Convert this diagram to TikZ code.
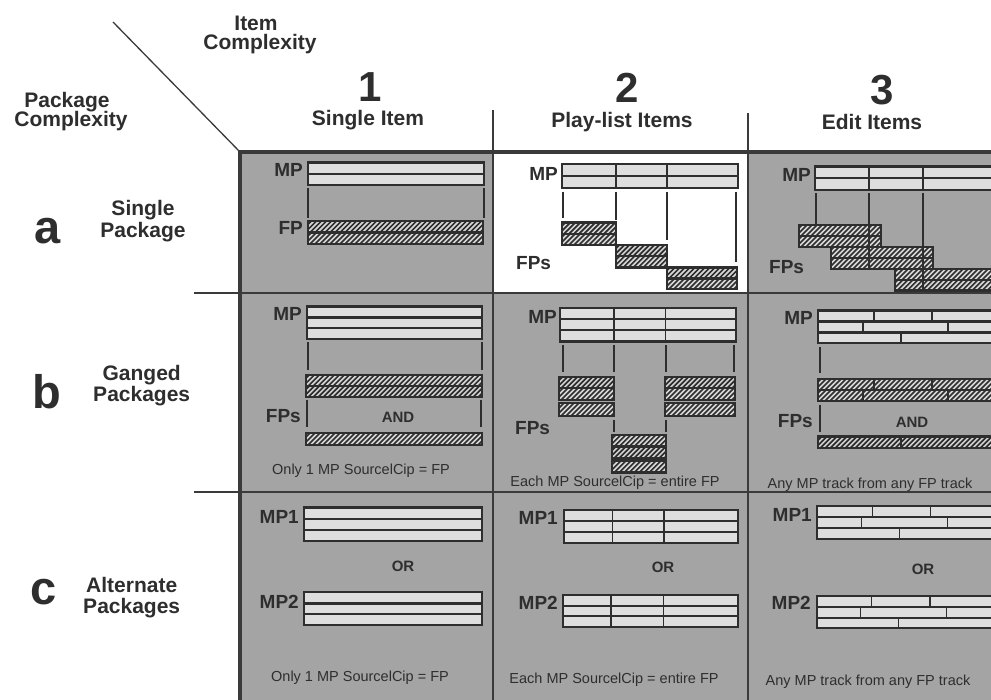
\documentclass[tikz,border=0pt]{standalone}
\usepackage{fontspec}
\setmainfont{Liberation Sans}
\definecolor{txt}{HTML}{2E2E2E}
\definecolor{cellc}{HTML}{A4A4A4}
\definecolor{lightc}{HTML}{DEDEDE}
\definecolor{hatchbgc}{HTML}{D8D8D8}
\definecolor{barc}{HTML}{2E2E2E}
\definecolor{gridc}{HTML}{3A3A3A}
\tikzset{
  lbl/.style={font=\fontsize{19}{19}\selectfont\bfseries, text=txt, inner sep=0pt},
  hdr/.style={font=\fontsize{21}{21}\selectfont\bfseries, text=txt, inner sep=0pt, anchor=base},
  bignum/.style={font=\fontsize{42}{42}\selectfont\bfseries, text=txt, inner sep=0pt, anchor=base},
  rowletter/.style={font=\fontsize{47}{47}\selectfont\bfseries, text=txt, inner sep=0pt, anchor=base},
  capt/.style={font=\fontsize{14.5}{14.5}\selectfont, text=txt, inner sep=0pt, anchor=base},
  conj/.style={font=\fontsize{15}{15}\selectfont\bfseries, text=txt, inner sep=0pt},
  lbar/.style={draw=barc, line width=2.4pt, fill=lightc},
  hbar/.style={draw=barc, line width=2.4pt},
  hatchln/.style={draw=barc, line width=1.7pt},
  tick/.style={draw=barc, line width=1.2pt},
  split/.style={draw=barc, line width=1.4pt},
  gridln/.style={draw=gridc, line width=1.4pt},
  border/.style={draw=gridc, line width=3.5pt},
}
\newcommand{\Lbox}[4]{\filldraw[lbar] (#1,#2) rectangle (#3,#4);}
\newcommand{\Hbox}[4]{%
  \begin{scope}
    \clip (#1,#2) rectangle (#3,#4);
    \fill[hatchbgc] (#1,#2) rectangle (#3,#4);
    \foreach \k in {0,5,...,300}{\draw[hatchln] ({#1+\k-20},{#4+2}) -- ++(26,-26);}
  \end{scope}
  \draw[hbar] (#1,#2) rectangle (#3,#4);}
\newcommand{\Vsplit}[3]{\draw[split] (#1,#2) -- (#1,#3);}
\newcommand{\Tick}[3]{\draw[tick] (#1,#2) -- (#1,#3);}
\begin{document}
\begin{tikzpicture}[x=1pt,y=-1pt]
\useasboundingbox (0,0) rectangle (991,700);
\fill[white] (0,0) rectangle (991,700);
% cells
\fill[cellc] (240,152) rectangle (1000,710);
\fill[white] (493,152) rectangle (748,293);
% grid lines
\draw[gridln] (493,110) -- (493,710);
\draw[gridln] (748,113) -- (748,710);
\draw[gridln] (194,293) -- (1000,293);
\draw[gridln] (194,492) -- (1000,492);
\draw[border] (240,152) -- (1000,152);
\draw[border] (240,150.5) -- (240,710);
\draw[line width=1.3pt, draw=gridc] (113,22) -- (240,152);

% headers
\node[hdr] (itemA) at (256,30.7) {Item};
\node[hdr] (itemB) at (260,50) {Complexity};
\node[hdr] (pkgA) at (67,107.3) {Package};
\node[hdr] (pkgB) at (71,126.7) {Complexity};
\node[bignum] (n1) at (370,101.7) {1};
\node[bignum] (n2) at (627,103) {2};
\node[bignum] (n3) at (882,105) {3};
\node[hdr] (c1h) at (368,126) {Single Item};
\node[hdr] (c2h) at (622,128) {Play-list Items};
\node[hdr] (c3h) at (872,130) {Edit Items};
\node[rowletter] (ra) at (47.5,243.6) {a};
\node[rowletter] (rb) at (46.5,409) {b};
\node[rowletter] (rc) at (44,604.5) {c};
\node[hdr] (raA) at (143,215.4) {Single};
\node[hdr] (raB) at (143,237.6) {Package};
\node[hdr] (rbA) at (141.7,381) {Ganged};
\node[hdr] (rbB) at (141.7,402) {Packages};
\node[hdr] (rcA) at (131.7,592) {Alternate};
\node[hdr] (rcB) at (131.7,613.3) {Packages};

% ---------- cell a1
\node[lbl, anchor=east] (a1mp) at (303,170) {MP};
\Lbox{308}{162.5}{484}{174}
\Lbox{308}{174}{484}{185}
\Tick{308}{188}{218}
\Tick{484}{188}{218}
\node[lbl, anchor=east] (a1fp) at (303,228) {FP};
\Hbox{308}{221}{483}{232.5}
\Hbox{308}{232.5}{483}{244}

% ---------- cell a2
\node[lbl, anchor=east] (a2mp) at (558,174) {MP};
\Lbox{562}{164}{738}{176}
\Lbox{562}{176}{738}{188}
\Vsplit{616}{164}{188}
\Vsplit{667}{164}{188}
\Tick{563}{192}{218}
\Tick{616}{192}{220}
\Tick{667}{192}{240}
\Tick{736}{192}{262}
\Hbox{562}{222.7}{616}{233.8}
\Hbox{562}{233.8}{616}{245}
\Hbox{616}{245}{667}{256.3}
\Hbox{616}{256.3}{667}{267.7}
\Hbox{667}{267.7}{737}{278.5}
\Hbox{667}{278.5}{737}{289}
\node[lbl, anchor=west] (a2fp) at (516,263) {FPs};

% ---------- cell a3
\node[lbl, anchor=east] (a3mp) at (811,175.3) {MP};
\Lbox{815}{166.7}{1000}{178.3}
\Lbox{815}{178.3}{1000}{190}
\Vsplit{869}{166.7}{190}
\Vsplit{923}{166.7}{190}
\Tick{816}{193}{225}
\Hbox{799}{225}{881}{236}
\Hbox{799}{236}{881}{247}
\Hbox{831}{247}{933}{258}
\Hbox{831}{258}{933}{269}
\Hbox{895}{269}{1000}{280}
\Hbox{895}{280}{1000}{290.7}
\Tick{869}{193}{269}
\Tick{923}{193}{290.7}
\node[lbl, anchor=west] (a3fp) at (769,267) {FPs};

% ---------- cell b1
\node[lbl, anchor=east] (b1mp) at (302,314) {MP};
\Lbox{307}{306.7}{482}{317.7}
\Lbox{307}{317.7}{482}{328.3}
\Lbox{307}{328.3}{482}{339.3}
\Tick{308}{342}{370}
\Tick{482}{342}{370}
\Hbox{306}{375}{482}{386.2}
\Hbox{306}{386.2}{482}{397.3}
\node[lbl, anchor=east] (b1fp) at (301,416) {FPs};
\Tick{307}{400}{427}
\Tick{481}{400}{427}
\node[conj] (b1and) at (398,417) {AND};
\Hbox{306}{433.3}{482}{445}
\node[capt] (b1cap) at (361,475) {Only 1 MP SourcelCip = FP};

% ---------- cell b2
\node[lbl, anchor=east] (b2mp) at (557,316.7) {MP};
\Lbox{560}{308.3}{736}{319.3}
\Lbox{560}{319.3}{736}{330}
\Lbox{560}{330}{736}{341.7}
\Vsplit{614}{308.3}{341.7}
\Vsplit{665.7}{308.3}{341.7}
\Tick{563}{345}{372}
\Tick{614}{345}{372}
\Tick{666}{345}{372}
\Tick{734}{345}{372}
\Hbox{559}{377.3}{614}{388.3}
\Hbox{559}{388.3}{614}{400}
\Hbox{559}{403.3}{614}{416}
\Hbox{665}{377.3}{735}{388.3}
\Hbox{665}{388.3}{735}{400}
\Hbox{665}{403.3}{735}{416}
\Tick{614}{420}{432}
\Tick{666}{420}{432}
\Hbox{612}{435}{666}{446.7}
\Hbox{612}{446.7}{666}{458.3}
\Hbox{612}{460.7}{666}{472.7}
\node[lbl, anchor=west] (b2fp) at (515,428.3) {FPs};
\node[capt] (b2cap) at (615,486.7) {Each MP SourcelCip = entire FP};

% ---------- cell b3
\node[lbl, anchor=east] (b3mp) at (813,318) {MP};
\Lbox{818}{310.7}{1000}{321.7}
\Lbox{818}{321.7}{1000}{332.7}
\Lbox{818}{332.7}{1000}{343.3}
\Vsplit{874}{310.7}{321.7}
\Vsplit{932}{310.7}{321.7}
\Vsplit{863}{321.7}{332.7}
\Vsplit{948}{321.7}{332.7}
\Vsplit{901}{332.7}{343.3}
\Tick{820}{347}{373}
\Hbox{818}{379.3}{1000}{390}
\Hbox{818}{390}{1000}{401}
\Vsplit{874}{379.3}{390}
\Vsplit{932}{379.3}{390}
\Vsplit{863}{390}{401}
\Vsplit{948}{390}{401}
\node[lbl, anchor=east] (b3fp) at (813,421) {FPs};
\Tick{820}{405}{432}
\node[conj] (b3and) at (912,422) {AND};
\Hbox{818}{436.7}{1000}{448.3}
\Vsplit{901}{436.7}{448.3}
\node[capt] (b3cap) at (870,489) {Any MP track from any FP track};

% ---------- cell c1
\node[lbl, anchor=east] (c1mp1) at (299,517) {MP1};
\Lbox{304}{507.3}{482}{519}
\Lbox{304}{519}{482}{530}
\Lbox{304}{530}{482}{540.7}
\node[conj] (c1or) at (403,566) {OR};
\node[lbl, anchor=east] (c1mp2) at (299,602) {MP2};
\Lbox{304}{591.7}{482}{603.3}
\Lbox{304}{603.3}{482}{614}
\Lbox{304}{614}{482}{625}
\node[capt] (c1cap) at (360,681.7) {Only 1 MP SourcelCip = FP};

% ---------- cell c2
\node[lbl, anchor=east] (c2mp1) at (558,518) {MP1};
\Lbox{564}{510}{738}{520.7}
\Lbox{564}{520.7}{738}{531.7}
\Lbox{564}{531.7}{738}{542.7}
\Vsplit{612.3}{510}{542.7}
\Vsplit{664}{510}{542.7}
\node[conj] (c2or) at (663,567) {OR};
\node[lbl, anchor=east] (c2mp2) at (558,603) {MP2};
\Lbox{563}{595}{738}{605.7}
\Lbox{563}{605.7}{738}{616}
\Lbox{563}{616}{738}{626.7}
\Vsplit{611}{595}{626.7}
\Vsplit{663.5}{595}{626.7}
\node[capt] (c2cap) at (614,683.3) {Each MP SourcelCip = entire FP};

% ---------- cell c3
\node[lbl, anchor=east] (c3mp1) at (812,515) {MP1};
\Lbox{817}{506}{1000}{516.7}
\Lbox{817}{516.7}{1000}{527.7}
\Lbox{817}{527.7}{1000}{539}
\Vsplit{872.7}{506}{516.7}
\Vsplit{930.7}{506}{516.7}
\Vsplit{861.7}{516.7}{527.7}
\Vsplit{947.3}{516.7}{527.7}
\Vsplit{899.3}{527.7}{539}
\node[conj] (c3or) at (923,569) {OR};
\node[lbl, anchor=east] (c3mp2) at (811,603) {MP2};
\Lbox{817}{596}{1000}{606.7}
\Lbox{817}{606.7}{1000}{617.7}
\Lbox{817}{617.7}{1000}{627.7}
\Vsplit{871.7}{596}{606.7}
\Vsplit{930}{596}{606.7}
\Vsplit{860.7}{606.7}{617.7}
\Vsplit{946.7}{606.7}{617.7}
\Vsplit{898.3}{617.7}{627.7}
\node[capt] (c3cap) at (868,685) {Any MP track from any FP track};
\end{tikzpicture}
\end{document}
